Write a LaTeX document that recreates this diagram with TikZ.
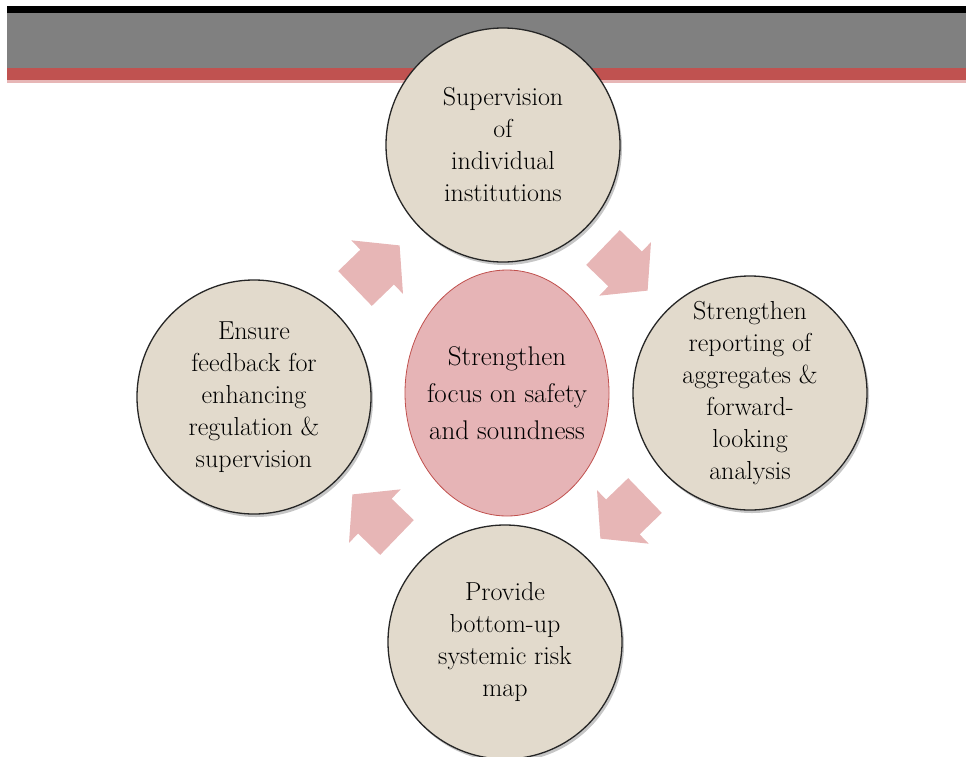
\documentclass[tikz,border=0pt]{standalone}
\usepackage{tikz}
\usetikzlibrary{shapes.geometric,shapes.arrows}
\usetikzlibrary{shadows}

\definecolor{paper}{RGB}{226,218,204}
\definecolor{rose}{RGB}{230,180,182}
\definecolor{roseline}{RGB}{192,80,77}
\definecolor{band}{RGB}{128,128,128}
\definecolor{stripe}{RGB}{192,82,80}
\definecolor{blush}{RGB}{231,182,182}

\begin{document}
\begin{tikzpicture}
		[x=1pt, y=-1pt,
		stage/.style={circle, draw=black!85, line width=1.3pt, fill=paper,
			minimum size=234pt, inner sep=0pt, align=center,
			font=\fontsize{26}{32}\selectfont,
			drop shadow={shadow xshift=2pt, shadow yshift=-3pt, opacity=.45}},
		hub/.style={ellipse, draw=roseline, line width=.8pt, fill=rose,
			minimum width=204pt, minimum height=246pt,
			inner xsep=-12pt, inner ysep=0pt,
			align=center, font=\fontsize{27}{37}\selectfont},
		flow/.style={single arrow, fill=blush, draw=none, inner xsep=0pt,
			inner ysep=24pt, minimum height=62pt,
			single arrow head extend=13pt, single arrow tip angle=100}]
		\useasboundingbox (0,0) rectangle (966,756);
		\clip (0,0) rectangle (966,756);
		% header bars
		\fill[black] (7,6) rectangle (966,13);
		\fill[band] (7,13) rectangle (966,68);
		\fill[stripe] (7,68) rectangle (966,80);
		\fill[blush] (7,80) rectangle (966,83);
		% the cycle
		\node[hub] (hub) at (507,393) {Strengthen\\focus on safety\\and soundness};
		\node[stage] (top) at (503,145) {Supervision\\of\\individual\\institutions};
		\node[stage] (right) at (750,393) {Strengthen\\reporting of\\aggregates \&\\forward-\\looking\\analysis};
		\node[stage] (bottom) at (505,642) {Provide\\bottom-up\\systemic risk\\map};
		\node[stage] (left) at (254,397) {Ensure\\feedback for\\enhancing\\regulation \&\\supervision};
		% block arrows between the stages
		\node[flow, rotate=44] (a1) at (370,274) {};
		\node[flow, rotate=-44] (a2) at (618,262) {};
		\node[flow, rotate=-136] (a3) at (630,510) {};
		\node[flow, rotate=136] (a4) at (382,523) {};
	\end{tikzpicture}
\end{document}
